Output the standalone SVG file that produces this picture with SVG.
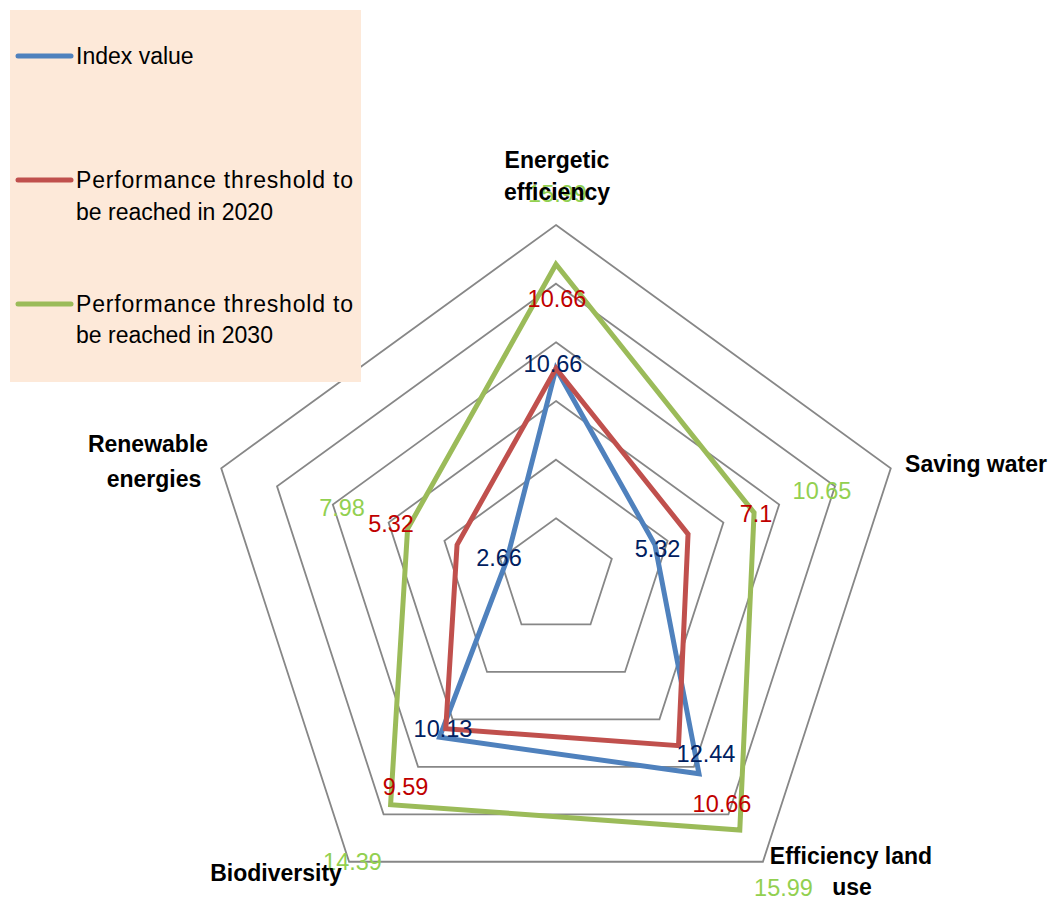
<svg xmlns="http://www.w3.org/2000/svg" width="1055" height="899" viewBox="0 0 1055 899">
<style>
.grid{fill:none;stroke:#878787;stroke-width:1.8;stroke-linejoin:miter}
.s{fill:none;stroke-width:5;stroke-linejoin:miter}
.blue{stroke:#4F81BD}.red{stroke:#C0504D}.green{stroke:#9BBB59}
.dl{font-family:"Liberation Sans",Arial,sans-serif;font-size:23.5px;text-anchor:middle}
.nv{fill:#002060}.rd{fill:#C00000}.gr{fill:#92D050}
.ax{font-family:"Liberation Sans",Arial,sans-serif;font-size:23px;font-weight:bold;fill:#000;text-anchor:middle}
.lg{font-family:"Liberation Sans",Arial,sans-serif;font-size:23px;fill:#000}
.ll{stroke-width:5;stroke-linecap:round}
</style>
<rect width="1055" height="899" fill="#fff"/>
<g id="grid">
<polygon class="grid" points="556,518.33 611.80,558.87 590.49,624.46 521.51,624.46 500.20,558.87"/>
<polygon class="grid" points="556,459.67 667.59,540.74 624.97,671.93 487.03,671.93 444.41,540.74"/>
<polygon class="grid" points="556,401 723.39,522.61 659.45,719.39 452.55,719.39 388.61,522.61"/>
<polygon class="grid" points="556,342.33 779.19,504.48 693.94,766.85 418.06,766.85 332.81,504.48"/>
<polygon class="grid" points="556,283.67 834.98,486.35 728.42,814.31 383.58,814.31 277.02,486.35"/>
<polygon class="grid" points="556,225 890.77,468.22 762.90,861.77 349.10,861.77 221.23,468.22"/>
</g>
<g id="connectors">
<polygon id="series-index" class="s blue" points="556,368.54 654.95,544.85 698.99,773.81 439.56,737.27 506.53,560.93"/>
<polygon id="series-2020" class="s red" points="556,368.54 688.05,534.10 678.53,745.65 445.77,728.72 457.05,544.85"/>
<polygon id="series-2030" class="s green" points="556,264.31 754.07,512.64 739.80,829.97 390.60,804.66 407.59,528.78"/>
</g>
<g id="data-labels">
<text class="dl gr" x="557.5" y="202">15.99</text>
<text class="dl rd" x="557" y="307">10.66</text>
<text class="dl nv" x="553" y="372">10.66</text>
<text class="dl gr" x="822" y="499">10.65</text>
<text class="dl rd" x="756" y="522">7.1</text>
<text class="dl nv" x="657.5" y="557">5.32</text>
<text class="dl nv" x="499" y="566">2.66</text>
<text class="dl gr" x="342" y="516">7.98</text>
<text class="dl rd" x="391" y="532">5.32</text>
<text class="dl nv" x="443" y="737">10.13</text>
<text class="dl rd" x="405.5" y="795">9.59</text>
<text class="dl gr" x="352.5" y="870">14.39</text>
<text class="dl nv" x="706" y="762">12.44</text>
<text class="dl rd" x="722" y="812">10.66</text>
<text class="dl gr" x="783.5" y="896">15.99</text>
</g>
<g id="axis-energetic-efficiency">
<text class="ax" x="557" y="168">Energetic</text>
<text class="ax" x="557" y="200">efficiency</text>
</g>
<g id="axis-saving-water">
<text class="ax" x="976" y="472">Saving water</text>
</g>
<g id="axis-efficiency-land-use">
<text class="ax" x="851" y="864">Efficiency land</text>
<text class="ax" x="852" y="895">use</text>
</g>
<g id="axis-biodiversity">
<text class="ax" x="276" y="881">Biodiversity</text>
</g>
<g id="axis-renewable-energies">
<text class="ax" x="148" y="452">Renewable</text>
<text class="ax" x="154" y="487">energies</text>
</g>
<g id="legend">
<rect x="10" y="10" width="351" height="372" fill="#FDE9D9"/>
<line class="ll blue" x1="18" y1="56" x2="71" y2="56"/>
<text class="lg" x="76" y="64">Index value</text>
<line class="ll red" x1="18" y1="180" x2="71" y2="180"/>
<text class="lg" x="76" y="188" textLength="277" lengthAdjust="spacing">Performance threshold to</text>
<text class="lg" x="76" y="220">be reached in 2020</text>
<line class="ll green" x1="18" y1="304" x2="71" y2="304"/>
<text class="lg" x="76" y="312" textLength="277" lengthAdjust="spacing">Performance threshold to</text>
<text class="lg" x="76" y="343">be reached in 2030</text>
</g>
</svg>
